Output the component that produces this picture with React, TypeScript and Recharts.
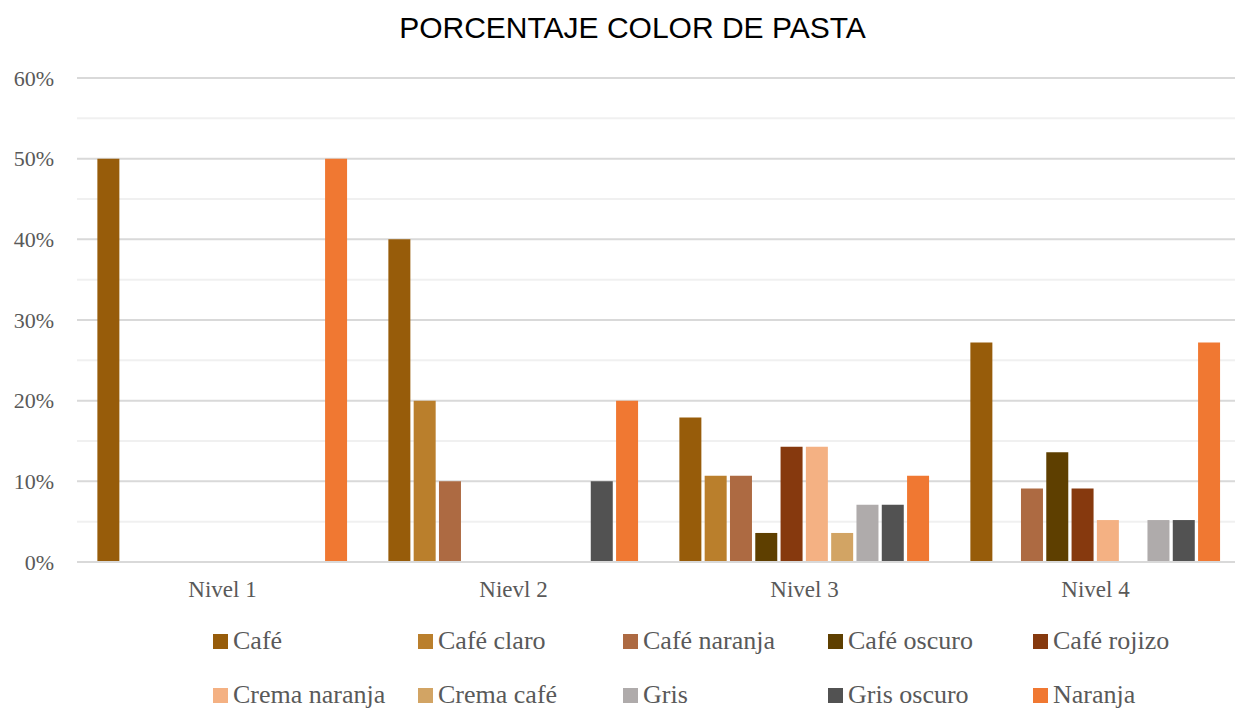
import { BarChart, Bar, XAxis, YAxis, CartesianGrid, Legend } from "recharts";

// categorías (el "Nievl 2" es tal cual en el original)
const niveles = ["Nivel 1", "Nievl 2", "Nivel 3", "Nivel 4"];

// valores en % por color de pasta, uno por nivel
const cafe = [50, 40, 17.9, 27.2];
const cafeClaro = [0, 20, 10.7, 0];
const cafeNaranja = [0, 10, 10.7, 9.1];
const cafeOscuro = [0, 0, 3.6, 13.6];
const cafeRojizo = [0, 0, 14.3, 9.1];
const cremaNaranja = [0, 0, 14.3, 5.2];
const cremaCafe = [0, 0, 3.6, 0];
const gris = [0, 0, 7.1, 5.2];
const grisOscuro = [0, 10, 7.1, 5.2];
const naranja = [50, 20, 10.7, 27.2];

const yTicks = [0, 10, 20, 30, 40, 50, 60];
const minorTicks = [5, 15, 25, 35, 45, 55];

const SERIES = [
  { key: "Café", values: cafe, color: "#975C0A" },
  { key: "Café claro", values: cafeClaro, color: "#BA7F2C" },
  { key: "Café naranja", values: cafeNaranja, color: "#AD6A42" },
  { key: "Café oscuro", values: cafeOscuro, color: "#5E3F00" },
  { key: "Café rojizo", values: cafeRojizo, color: "#86390E" },
  { key: "Crema naranja", values: cremaNaranja, color: "#F4B183" },
  { key: "Crema café", values: cremaCafe, color: "#D2A464" },
  { key: "Gris", values: gris, color: "#AFABAB" },
  { key: "Gris oscuro", values: grisOscuro, color: "#525252" },
  { key: "Naranja", values: naranja, color: "#F07832" },
];

const data = niveles.map((nivel, i) => {
  const row: { nivel: string } & { [k: string]: number | string } = { nivel };
  SERIES.forEach((s) => {
    row[s.key] = s.values[i];
  });
  return row;
});

const SERIF = "'Liberation Serif', 'Times New Roman', serif";

// líneas secundarias cada 5% con la escala del eje
const lineasMenores = ({ yAxis, offset }: any) =>
  minorTicks.map((t) =>
    yAxis && typeof yAxis.scale === "function"
      ? yAxis.scale(t)
      : offset.top + offset.height * (1 - t / 60)
  );

// leyenda en cuadrícula de 5 columnas
function LeyendaPasta() {
  return (
    <div
      style={{
        display: "grid",
        gridTemplateColumns: "repeat(5, 205px)",
        rowGap: 28,
        paddingLeft: 213,
        paddingTop: 26,
        fontFamily: SERIF,
        fontSize: 26,
        color: "#595959",
        height: 106,
        boxSizing: "border-box",
      }}
    >
      {SERIES.map((s) => (
        <div key={s.key} style={{ display: "flex", alignItems: "center", whiteSpace: "nowrap", lineHeight: "26px", height: 26 }}>
          <span style={{ width: 15, height: 15, background: s.color, display: "inline-block", marginRight: 5, flexShrink: 0 }} />
          {s.key}
        </div>
      ))}
    </div>
  );
}

export default function App() {
  return (
    <div style={{ position: "absolute", left: 0, top: 0, width: 1235, height: 708, background: "#fff", overflow: "hidden" }}>
      <div
        style={{
          position: "absolute",
          top: 11,
          left: 0,
          width: 1265,
          textAlign: "center",
          fontFamily: "'Liberation Sans', Arial, sans-serif",
          fontSize: 30,
          color: "#000",
        }}
      >
        PORCENTAJE COLOR DE PASTA
      </div>
      <BarChart
        width={1241}
        height={708}
        data={data}
        margin={{ top: 78, right: 0, left: 0, bottom: 0 }}
        barCategoryGap="7%"
        barGap={3.3}
      >
        <CartesianGrid
          horizontal
          vertical={false}
          stroke="#f0f0f0"
          strokeWidth={2}
          horizontalCoordinatesGenerator={lineasMenores}
        />
        <CartesianGrid horizontal vertical={false} stroke="#d9d9d9" strokeWidth={2} />
        <XAxis
          dataKey="nivel"
          axisLine={{ stroke: "#d9d9d9", strokeWidth: 2 }}
          tickLine={false}
          tickSize={0}
          tickMargin={19}
          height={40}
          tick={{ fontFamily: SERIF, fontSize: 23, fill: "#595959" }}
        />
        <YAxis
          domain={[0, 60]}
          ticks={yTicks}
          tickFormatter={(v) => `${v}%`}
          axisLine={false}
          tickLine={false}
          tickSize={0}
          tickMargin={23}
          width={77}
          tick={{ fontFamily: SERIF, fontSize: 22, fill: "#595959" }}
        />
        <Legend verticalAlign="bottom" content={<LeyendaPasta />} />
        {SERIES.map((s) => (
          <Bar key={s.key} dataKey={s.key} fill={s.color} isAnimationActive={false} />
        ))}
      </BarChart>
    </div>
  );
}
